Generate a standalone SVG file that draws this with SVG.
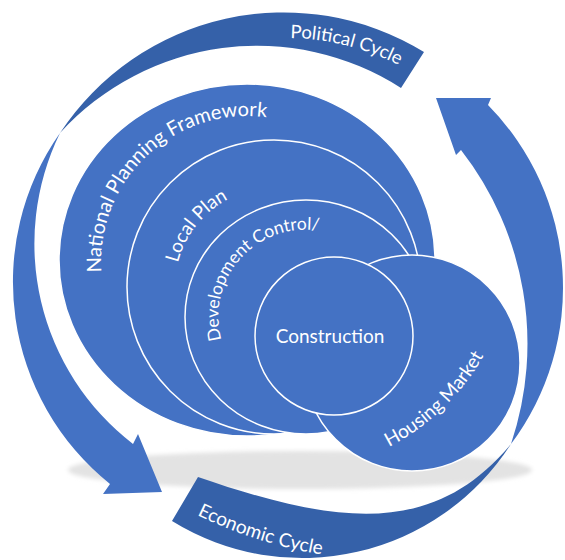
<svg xmlns="http://www.w3.org/2000/svg" width="565" height="560" viewBox="0 0 565 560">
<defs>
<style>
.c{fill:#4472C4;stroke:#FFFFFF;stroke-width:1.5}
.arrow{fill:#4472C4}
.band{fill:#3561A9}
.t{font-family:Lato,"Open Sans","Liberation Sans",sans-serif;fill:#FFFFFF;font-size:19px}
</style>
<filter id="soft" x="-10%" y="-50%" width="120%" height="200%"><feGaussianBlur stdDeviation="2"/></filter>
<path id="p-npf" d="M101.4,272.2 A146,146 0 0 1 320,135.6"/>
<path id="p-lp" d="M177.9,263 A99,99 0 0 1 282.6,188.4"/>
<path id="p-dc" d="M221.6,340 A87,87 0 0 1 349.5,241.7"/>
<path id="p-pol" d="M290.3,38 A248,248 0 0 1 428.2,82.9"/>
<path id="p-eco" d="M197,515 A460,460 0 0 0 370,560"/>
<path id="p-hm" d="M389,447 A230,230 0 0 0 498,325"/>
</defs>
<rect width="565" height="560" fill="#FFFFFF"/>
<ellipse id="shadow" cx="300" cy="470" rx="232" ry="19" fill="#E3E3E3" filter="url(#soft)"/>
<g id="connectors">
<path class="arrow" d="M60,133 A259,259 0 0 0 110,484 L103,494 L162,492 L138,434 L133,444 A252.5,252.5 0 0 1 60,133 Z"/>
<path class="arrow" d="M511,444 A260.4,260.4 0 0 0 488,105 L491,98 L436,98 L456,155 L461,150 A314.8,314.8 0 0 1 511,444 Z"/>
</g>
<g id="political-cycle">
<path class="band" d="M424,52 A268,268 0 0 0 60,133 A266.5,266.5 0 0 1 401,88 Z"/>
<text class="t" style="font-size:18.5px"><textPath href="#p-pol">Political Cycle</textPath></text>
</g>
<g id="economic-cycle">
<path class="band" d="M198,477 C340,526 434,536 511,444 A248,248 0 0 1 172,521 Z"/>
<text class="t"><textPath href="#p-eco">Economic Cycle</textPath></text>
</g>
<g id="national-planning-framework">
<ellipse class="c" cx="247" cy="260" rx="188" ry="176"/>
<text class="t" style="font-size:20px"><textPath href="#p-npf">National Planning Framework</textPath></text>
</g>
<g id="local-plan">
<circle class="c" cx="274" cy="287" r="147"/>
<text class="t"><textPath href="#p-lp">Local Plan</textPath></text>
</g>
<g id="development-control">
<ellipse class="c" cx="306" cy="317" rx="121" ry="117"/>
<text class="t" style="font-size:17.5px"><textPath href="#p-dc">Development Control/</textPath></text>
</g>
<g id="housing-market">
<circle class="c" cx="412" cy="363" r="108"/>
<text class="t"><textPath href="#p-hm">Housing Market</textPath></text>
</g>
<g id="construction">
<circle class="c" cx="334" cy="336" r="79"/>
<text class="t" x="330" y="343" text-anchor="middle">Construction</text>
</g>
</svg>
